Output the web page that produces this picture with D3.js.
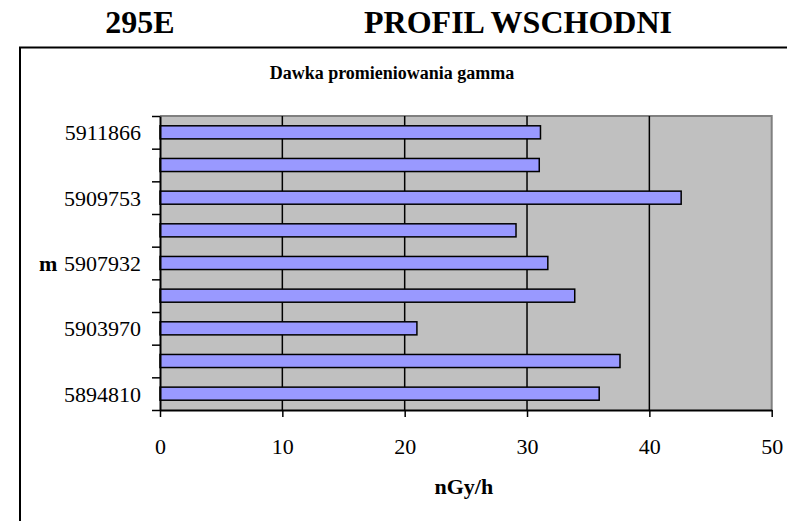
<!DOCTYPE html>
<html>
<head>
<meta charset="utf-8">
<script src="https://cdn.jsdelivr.net/npm/d3@7"></script>
<style>
  html, body { margin: 0; padding: 0; background: #fff; }
  svg { display: block; font-family: "Liberation Serif", "Times New Roman", serif; }
</style>
</head>
<body>
<svg id="chart" width="787" height="521"></svg>
<script>
// ---- data (top to bottom as drawn) ----
const categories = ["5911866", "", "5909753", "", "5907932", "", "5903970", "", "5894810"];
const values = [31.1, 31.0, 42.6, 29.1, 31.7, 33.9, 21.0, 37.6, 35.9];
const xTicks = [0, 10, 20, 30, 40, 50];
const pageTitleLeft = "295E";
const pageTitleRight = "PROFIL WSCHODNI";
const chartTitle = "Dawka promieniowania gamma";
const xAxisTitle = "nGy/h";
const yAxisTitle = "m";

const svg = d3.select("#chart");

const plot = { left: 160, right: 771.7, top: 116, bottom: 410 };

// page titles
svg.append("text").attr("x", 140).attr("y", 33).attr("text-anchor", "middle")
  .attr("font-size", 32).attr("font-weight", "bold").text(pageTitleLeft);
svg.append("text").attr("x", 518).attr("y", 33).attr("text-anchor", "middle")
  .attr("font-size", 32).attr("font-weight", "bold").text(pageTitleRight);

// outer frame (chart area border, running off the page)
svg.append("path")
  .attr("d", `M20,530 L20,47.5 L800,47.5`)
  .attr("fill", "none").attr("stroke", "#000").attr("stroke-width", 2);

// chart title
svg.append("text").attr("x", 392).attr("y", 79).attr("text-anchor", "middle")
  .attr("font-size", 18).attr("font-weight", "bold").text(chartTitle);

// scales
const x = d3.scaleLinear().domain([0, 50]).range([plot.left, plot.right]);
const idx = d3.range(categories.length);
const y = d3.scaleBand().domain(idx).range([plot.top, plot.bottom])
  .paddingInner(0.6).paddingOuter(0.3);
const yb = d3.scaleLinear().domain([0, categories.length]).range([plot.top, plot.bottom]);

// plot background
svg.append("rect")
  .attr("x", x(0)).attr("y", plot.top)
  .attr("width", x(50) - x(0)).attr("height", plot.bottom - plot.top)
  .attr("fill", "#C0C0C0");

// gray plot border (top & right)
svg.append("path")
  .attr("d", `M${x(0)},${plot.top} L${x(50)},${plot.top} L${x(50)},${plot.bottom}`)
  .attr("fill", "none").attr("stroke", "#808080").attr("stroke-width", 2);

// vertical gridlines
svg.append("g").selectAll("line")
  .data(xTicks.filter(t => t > 0 && t < 50))
  .join("line")
  .attr("x1", d => x(d)).attr("x2", d => x(d))
  .attr("y1", plot.top).attr("y2", plot.bottom)
  .attr("stroke", "#000").attr("stroke-width", 1.5);

// bars
svg.append("g").selectAll("rect")
  .data(values)
  .join("rect")
  .attr("x", x(0))
  .attr("y", (d, i) => y(i))
  .attr("width", d => x(d) - x(0))
  .attr("height", y.bandwidth())
  .attr("fill", "#9999FF")
  .attr("stroke", "#000").attr("stroke-width", 1.5);

// x axis
const xAxis = svg.append("g")
  .attr("transform", `translate(0,${plot.bottom})`)
  .call(d3.axisBottom(x).tickValues(xTicks).tickSize(7).tickSizeOuter(0).tickPadding(21));
xAxis.select(".domain").attr("stroke", "#000").attr("stroke-width", 2);
xAxis.selectAll(".tick line").attr("stroke", "#000").attr("stroke-width", 1.5);
xAxis.selectAll(".tick text")
  .attr("font-family", "Liberation Serif").attr("font-size", 22).attr("fill", "#000");

// y axis (ticks at category boundaries)
const yAxis = svg.append("g")
  .attr("transform", `translate(${plot.left},0)`)
  .call(d3.axisLeft(yb).tickValues(d3.range(categories.length + 1)).tickSize(8).tickSizeOuter(0).tickFormat(""));
yAxis.select(".domain").attr("stroke", "#000").attr("stroke-width", 2);
yAxis.selectAll(".tick line").attr("stroke", "#000").attr("stroke-width", 1.5);

// category labels
svg.append("g").selectAll("text")
  .data(categories)
  .join("text")
  .attr("x", 141)
  .attr("y", (d, i) => y(i) + y.bandwidth() / 2)
  .attr("dy", "0.36em")
  .attr("text-anchor", "end")
  .attr("font-size", 22)
  .text(d => d);

// y axis title "m" (placed before the middle label)
const midIdx = Math.floor(categories.length / 2);
svg.append("text")
  .attr("x", 39)
  .attr("y", y(midIdx) + y.bandwidth() / 2)
  .attr("dy", "0.36em")
  .attr("font-size", 22).attr("font-weight", "bold")
  .text(yAxisTitle);

// x axis title
svg.append("text")
  .attr("x", (plot.left + plot.right) / 2 - 2).attr("y", 494)
  .attr("text-anchor", "middle")
  .attr("font-size", 22).attr("font-weight", "bold")
  .text(xAxisTitle);
</script>
</body>
</html>
